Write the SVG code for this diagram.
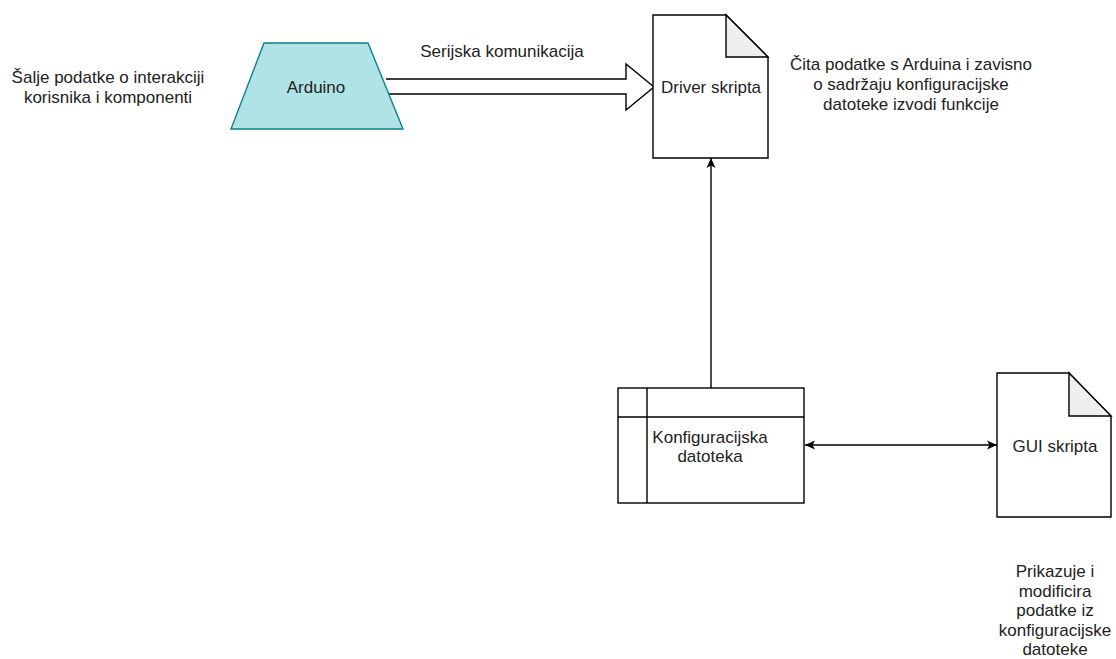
<svg xmlns="http://www.w3.org/2000/svg" width="1116" height="659" viewBox="0 0 1116 659">
<style>
text{font-family:"Liberation Sans",Arial,sans-serif;font-size:17px;fill:#222;text-anchor:middle}
.box{fill:#fff;stroke:#000;stroke-width:1.4}
.fold{fill:#efefef;stroke:#000;stroke-width:1.4;stroke-linejoin:miter}
.edge{fill:none;stroke:#000;stroke-width:1.4}
</style>
<defs>
<marker id="ah" viewBox="0 0 10 10" refX="10" refY="5" markerWidth="10" markerHeight="10" markerUnits="userSpaceOnUse" orient="auto-start-reverse">
<path d="M0,0.5 L10,5 L0,9.5 L2.5,5 Z" fill="#000"/>
</marker>
</defs>
<rect width="1116" height="659" fill="#fff"/>
<g id="connectors">
<path d="M386,79 H626 V64 L654,87 L626,110 V94 H386" fill="#fff" stroke="#000" stroke-width="1.4"/>
<path class="edge" d="M711,388 V158" marker-end="url(#ah)"/>
<path class="edge" d="M805,445 H997" marker-start="url(#ah)" marker-end="url(#ah)"/>
<text x="502" y="57">Serijska komunikacija</text>
</g>
<g id="arduino">
<path d="M264,43 H368 L403,129 H231 Z" fill="#b0e3e6" stroke="#0e8088" stroke-width="1.4"/>
<text x="316" y="93">Arduino</text>
</g>
<g id="driver">
<path class="box" d="M653,15 H726 L768,57 V158 H653 Z"/>
<path class="fold" d="M726,15 V57 H768 Z"/>
<text x="711" y="93">Driver skripta</text>
</g>
<g id="konfig">
<rect class="box" x="618" y="388" width="186" height="115"/>
<path class="edge" d="M647,388 V503 M618,417 H804"/>
<text x="710" y="443">Konfiguracijska</text>
<text x="710" y="462">datoteka</text>
</g>
<g id="gui">
<path class="box" d="M997,373 H1069 L1111,416 V517 H997 Z"/>
<path class="fold" d="M1069,373 V416 H1111 Z"/>
<text x="1055" y="452">GUI skripta</text>
</g>
<g id="note-arduino">
<text x="108" y="83">Šalje podatke o interakciji</text>
<text x="108" y="103">korisnika i komponenti</text>
</g>
<g id="note-driver">
<text x="911" y="70">Čita podatke s Arduina i zavisno</text>
<text x="911" y="90">o sadržaju konfiguracijske</text>
<text x="911" y="110">datoteke izvodi funkcije</text>
</g>
<g id="note-gui">
<text x="1055" y="577">Prikazuje i</text>
<text x="1055" y="596.5">modificira</text>
<text x="1055" y="616">podatke iz</text>
<text x="1055" y="635.5">konfiguracijske</text>
<text x="1055" y="655">datoteke</text>
</g>
</svg>
